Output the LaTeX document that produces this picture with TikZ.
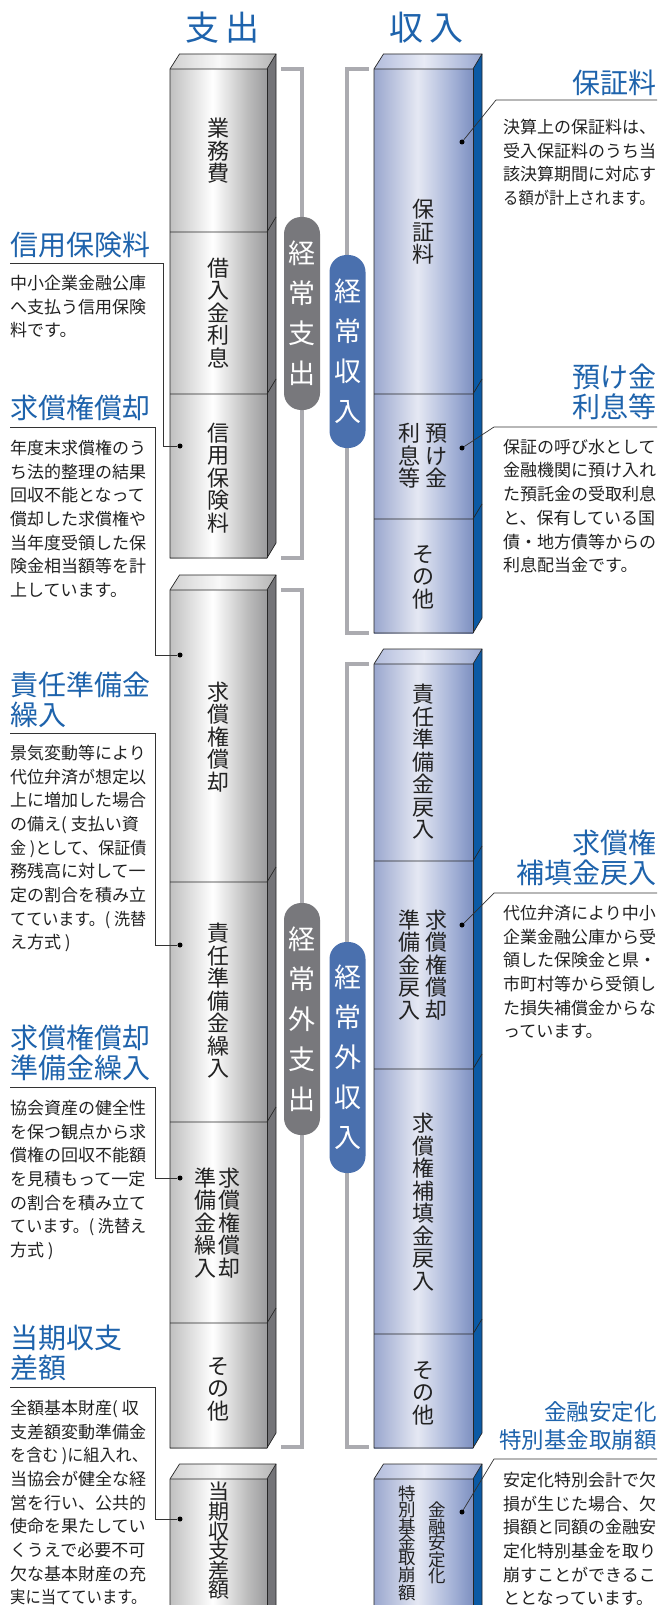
\documentclass[tikz,border=0pt]{standalone}
\usepackage{fontspec}
\newfontfamily\jp{Noto Sans CJK JP}
\definecolor{ttl}{HTML}{1E63AC}
\definecolor{txt}{HTML}{222222}
\definecolor{gA}{HTML}{C0C0C0}
\definecolor{gB}{HTML}{FFFFFF}
\definecolor{gD}{HTML}{BCBCBC}
\definecolor{gC}{HTML}{9C9C9E}
\definecolor{gtA}{HTML}{D0D0D0}
\definecolor{gtB}{HTML}{F8F8F8}
\definecolor{gtC}{HTML}{B4B4B4}
\definecolor{gside}{HTML}{747478}
\definecolor{bA}{HTML}{9AA7CE}
\definecolor{bB}{HTML}{E5E8F3}
\definecolor{bD}{HTML}{A3B1D6}
\definecolor{bC}{HTML}{7D90C1}
\definecolor{btA}{HTML}{B2BCDC}
\definecolor{btB}{HTML}{E8EBF5}
\definecolor{btC}{HTML}{98A7D0}
\definecolor{bside}{HTML}{0B5AA5}
\definecolor{pillg}{HTML}{78787C}
\definecolor{pillb}{HTML}{4A70AE}
\definecolor{brk}{HTML}{ABABB0}
\pgfdeclarehorizontalshading{gfront}{100bp}{color(0bp)=(gA); color(25bp)=(gA); color(47bp)=(gB); color(65bp)=(gD); color(75bp)=(gC); color(100bp)=(gC)}
\pgfdeclarehorizontalshading{gtop}{100bp}{color(0bp)=(gtA); color(25bp)=(gtA); color(48bp)=(gtB); color(75bp)=(gtC); color(100bp)=(gtC)}
\pgfdeclarehorizontalshading{bfront}{100bp}{color(0bp)=(bA); color(25bp)=(bA); color(47bp)=(bB); color(65bp)=(bD); color(75bp)=(bC); color(100bp)=(bC)}
\pgfdeclarehorizontalshading{btop}{100bp}{color(0bp)=(btA); color(25bp)=(btA); color(48bp)=(btB); color(75bp)=(btC); color(100bp)=(btC)}
\newcommand\mkblock[5]{%
  \shade[shading=#1front] (#2,#4) rectangle (#3,#5);
  \shade[shading=#1top] (#2,#4) -- (#2+9.5,#4-15) -- (#3+9,#4-15) -- (#3,#4) -- cycle;
  \fill[#1side] (#3,#4) -- (#3+9,#4-15) -- (#3+9,#5-15) -- (#3,#5) -- cycle;
  \draw[edge] (#2,#5) -- (#2,#4) -- (#2+9.5,#4-15) -- (#3+9,#4-15) -- (#3+9,#5-15) -- (#3,#5) -- cycle;
  \draw[edge] (#2,#4) -- (#3,#4) -- (#3+9,#4-15);
  \draw[edge] (#3,#4) -- (#3,#5);
}
\newcommand\mkdiv[3]{\draw[edge] (#1,#3) -- (#2,#3) -- (#2+9,#3-15);}
\newcommand\sq[2]{\scalebox{#1}[1]{#2}}
\tikzset{
  edge/.style={draw=black!85, line width=0.7pt},
  vt/.style={font=\jp\fontsize{22pt}{22.5pt}\selectfont, align=center, inner sep=0pt, text=txt},
  gpill/.style={fill=pillg, rounded corners=17pt, minimum width=36pt, inner sep=0pt, text=white, align=center, font=\jp\fontsize{27pt}{40pt}\selectfont},
  bpill/.style={gpill, fill=pillb},
  bracket/.style={draw=brk, line width=4pt},
  callout/.style={draw=black!80, line width=0.7pt},
  dot/.style={circle, fill=black, inner sep=0pt, minimum size=5pt},
  head/.style={font=\jp\fontsize{34pt}{34pt}\selectfont, text=ttl, inner sep=0pt},
  ltitle/.style={font=\jp\fontsize{28pt}{30pt}\selectfont, text=ttl, inner sep=0pt, align=left, anchor=north west},
  rtitle/.style={font=\jp\fontsize{28pt}{30pt}\selectfont, text=ttl, inner sep=0pt, align=right, anchor=north east},
  lbody/.style={font=\jp\fontsize{17pt}{23.7pt}\selectfont, text=txt, inner sep=0pt, align=left, anchor=north west},
}
\begin{document}
\begin{tikzpicture}[x=1pt,y=-1pt]
\useasboundingbox[fill=white] (0,0) rectangle (657,1605);
\clip (0,0) rectangle (657,1605);

% headings
\node[head] (hout) at (222.5,28) {支\kern7pt 出};
\node[head] (hin) at (426.5,28) {収\kern7pt 入};

% brackets
\draw[bracket] (281,69) -- (302,69) -- (302,558) -- (281,558);
\draw[bracket] (369,69) -- (347,69) -- (347,633) -- (369,633);
\draw[bracket] (281,590) -- (302,590) -- (302,1447) -- (281,1447);
\draw[bracket] (369,664) -- (347,664) -- (347,1447) -- (369,1447);

% gray column
\mkblock{g}{170}{267}{69}{558}
\mkdiv{170}{267}{232}
\mkdiv{170}{267}{394}
\mkblock{g}{170}{267}{590}{1448}
\mkdiv{170}{267}{882}
\mkdiv{170}{267}{1122}
\mkdiv{170}{267}{1323}
\mkblock{g}{170}{267}{1479}{1640}

% blue column
\mkblock{b}{374}{473}{69}{633}
\mkdiv{374}{473}{394}
\mkdiv{374}{473}{519}
\mkblock{b}{374}{473}{664}{1448}
\mkdiv{374}{473}{861}
\mkdiv{374}{473}{1069}
\mkdiv{374}{473}{1334}
\mkblock{b}{374}{473}{1479}{1640}

% pills
\node[gpill, minimum height=193pt] (p1) at (302,313.5) {経\\常\\支\\出};
\node[bpill, minimum height=193pt] (p2) at (347.5,351.5) {経\\常\\収\\入};
\node[gpill, minimum height=232pt] (p3) at (302,1019) {経\\常\\外\\支\\出};
\node[bpill, minimum height=231pt] (p4) at (347.5,1057.5) {経\\常\\外\\収\\入};

% gray labels
\node[vt] (g1) at (218.5,151) {業\\務\\費};
\node[vt] (g2) at (218.5,313) {借\\入\\金\\利\\息};
\node[vt] (g3) at (218.5,478) {信\\用\\保\\険\\料};
\node[vt] (g4) at (218.5,737) {求\\償\\権\\償\\却};
\node[vt] (g5) at (218.5,1001) {責\\任\\準\\備\\金\\繰\\入};
\node[vt] (g6a) at (229,1223) {求\\償\\権\\償\\却};
\node[vt] (g6b) at (205,1223) {準\\備\\金\\繰\\入};
\node[vt] (g7) at (218.5,1389) {そ\\の\\他};
\node[vt, font=\jp\fontsize{21pt}{19.6pt}\selectfont] (g8) at (218.5,1541) {当\\期\\収\\支\\差\\額};

% blue labels
\node[vt] (b1) at (423.5,232) {保\\証\\料};
\node[vt] (b2a) at (436,456) {預\\け\\金};
\node[vt] (b2b) at (409,456) {利\\息\\等};
\node[vt] (b3) at (423.5,577) {そ\\の\\他};
\node[vt] (b4) at (423.5,762) {責\\任\\準\\備\\金\\戻\\入};
\node[vt] (b5a) at (436,965) {求\\償\\権\\償\\却};
\node[vt] (b5b) at (409,965) {準\\備\\金\\戻\\入};
\node[vt] (b6) at (423.5,1202) {求\\償\\権\\補\\填\\金\\戻\\入};
\node[vt] (b7) at (423.5,1393) {そ\\の\\他};
\node[vt, font=\jp\fontsize{17.5pt}{16.5pt}\selectfont] (b8a) at (437,1543) {金\\融\\安\\定\\化};
\node[vt, font=\jp\fontsize{17.5pt}{15.8pt}\selectfont] (b8b) at (407,1543) {特\\別\\基\\金\\取\\崩\\額};

% dots
\node[dot] (d1) at (180,446) {};
\node[dot] (d2) at (180,655) {};
\node[dot] (d3) at (180,945) {};
\node[dot] (d4) at (180,1178) {};
\node[dot] (d5) at (180,1519) {};
\node[dot] (e1) at (462,142) {};
\node[dot] (e2) at (462,448) {};
\node[dot] (e3) at (462,925) {};
\node[dot] (e4) at (462,1512) {};

% left annotations
\node[ltitle] (t1) at (10,231.6) {信用保険料};
\node[lbody] (x1) at (10,274.8) {中小企業金融公庫\\へ支払う信用保険\\料です。};
\coordinate (c1a) at (10,263); \coordinate (c1b) at (163,263); \coordinate (c1c) at (163,446);
\draw[callout] (c1a) -- (c1b) -- (c1c) -- (d1);

\node[ltitle] (t2) at (10,394.6) {求償権償却};
\node[lbody] (x2) at (10,439.8) {年度末求償権のう\\ち法的整理の結果\\回収不能となって\\償却した求償権や\\当年度受領した保\\険金相当額等を計\\上しています。};
\coordinate (c2a) at (10,427); \coordinate (c2b) at (155,427); \coordinate (c2c) at (155,655);
\draw[callout] (c2a) -- (c2b) -- (c2c) -- (d2);

\node[ltitle] (t3) at (10,671.6) {責任準備金\\繰入};
\node[lbody] (x3) at (10,744.8) {景気変動等により\\代位弁済が想定以\\上に増加した場合\\の備え( 支払い資\\\sq{0.945}{金 )として、保証債}\\務残高に対して一\\定の割合を積み立\\\sq{0.945}{てています。( 洗替}\\え方式 )};
\coordinate (c3a) at (10,733); \coordinate (c3b) at (155,733); \coordinate (c3c) at (155,945);
\draw[callout] (c3a) -- (c3b) -- (c3c) -- (d3);

\node[ltitle] (t4) at (10,1024.6) {求償権償却\\準備金繰入};
\node[lbody] (x4) at (10,1099.8) {協会資産の健全性\\を保つ観点から求\\償権の回収不能額\\を見積もって一定\\の割合を積み立て\\\sq{0.945}{ています。( 洗替え}\\方式 )};
\coordinate (c4a) at (10,1087); \coordinate (c4b) at (155,1087); \coordinate (c4c) at (155,1178);
\draw[callout] (c4a) -- (c4b) -- (c4c) -- (d4);

\node[ltitle] (t5) at (10,1324.6) {当期収支\\差額};
\node[lbody] (x5) at (10,1399.8) {全額基本財産( 収\\支差額変動準備金\\\sq{0.945}{を含む )に組入れ、}\\当協会が健全な経\\営を行い、公共的\\使命を果たしてい\\くうえで必要不可\\欠な基本財産の充\\\sq{0.9}{実に当てています。}};
\coordinate (c5a) at (10,1387); \coordinate (c5b) at (155,1387); \coordinate (c5c) at (155,1519);
\draw[callout] (c5a) -- (c5b) -- (c5c) -- (d5);

% right annotations
\node[rtitle] (r1) at (657,69.6) {保証料};
\node[lbody] (y1) at (503,118.8) {決算上の保証料は、\\受入保証料のうち当\\該決算期間に対応す\\\sq{0.9}{る額が計上されます。}};
\coordinate (k1a) at (657,100); \coordinate (k1b) at (496,100);
\draw[callout] (k1a) -- (k1b) -- (e1);

\node[rtitle] (r2) at (657,363.6) {預け金\\利息等};
\node[lbody] (y2) at (503,438.8) {保証の呼び水として\\金融機関に預け入れ\\た預託金の受取利息\\と、保有している国\\債・地方債等からの\\利息配当金です。};
\coordinate (k2a) at (657,427); \coordinate (k2b) at (494,427);
\draw[callout] (k2a) -- (k2b) -- (e2);

\node[rtitle] (r3) at (657,829.6) {求償権\\補填金戻入};
\node[lbody] (y3) at (503,904.8) {代位弁済により中小\\企業金融公庫から受\\領した保険金と県・\\市町村等から受領し\\た損失補償金からな\\っています。};
\coordinate (k3a) at (657,893); \coordinate (k3b) at (494,893);
\draw[callout] (k3a) -- (k3b) -- (e3);

\node[rtitle, font=\jp\fontsize{22.5pt}{28pt}\selectfont] (r4) at (657,1401.2) {金融安定化\\特別基金取崩額};
\node[lbody] (y4) at (503,1471.8) {安定化特別会計で欠\\損が生じた場合、欠\\損額と同額の金融安\\定化特別基金を取り\\崩すことができるこ\\ととなっています。};
\coordinate (k4a) at (657,1459); \coordinate (k4b) at (494,1459);
\draw[callout] (k4a) -- (k4b) -- (e4);
\end{tikzpicture}
\end{document}
